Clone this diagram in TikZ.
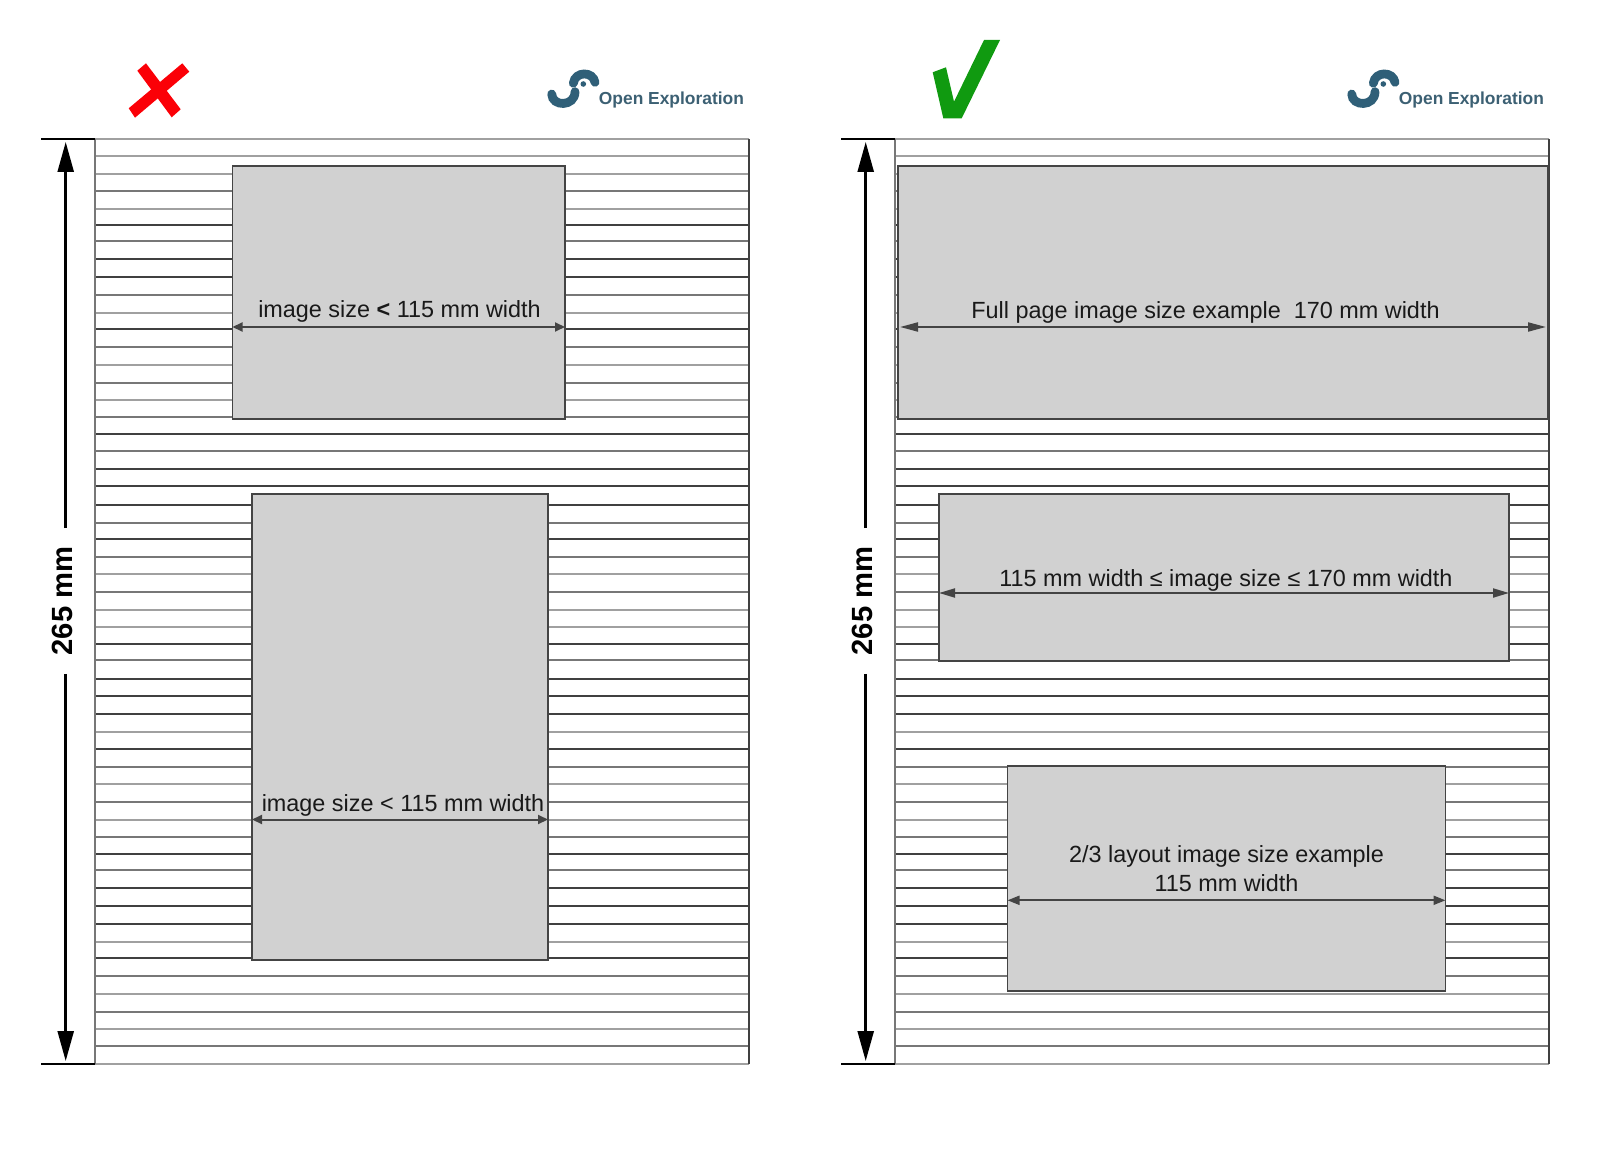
\documentclass[tikz,border=0pt]{standalone}
\usepackage{fontspec}
\setmainfont{Liberation Sans}
\usetikzlibrary{calc, arrows.meta}
\definecolor{imgcolor}{HTML}{D1D1D1}
\definecolor{edgecolor}{HTML}{444444}
\definecolor{ruled}{HTML}{404040}
\definecolor{rulem}{HTML}{777777}
\definecolor{ruleg}{HTML}{A0A0A0}
\definecolor{logocolor}{HTML}{2F5F78}
\definecolor{logotext}{HTML}{3C6073}
\definecolor{crosscolor}{HTML}{FB0007}
\definecolor{tickcolor}{HTML}{109A10}

\begin{document}
\begin{tikzpicture}[
    x=0.5pt, y=-0.5pt,
    rule/.style={line width=0.85pt},
    imgbox/.style={draw=edgecolor, fill=imgcolor, rectangle, line width=0.8pt, inner sep=0pt, outer sep=0pt},
    caption/.style={anchor=south, inner xsep=0pt, inner ysep=2pt, align=center, text=black!90, font=\fontsize{11.7}{14.5}\selectfont},
    span/.style={{Triangle[length=#1, width=4.5pt]}-{Triangle[length=#1, width=4.5pt]}, draw=edgecolor, line width=1pt},
    dim/.style={-{Triangle[length=15pt, width=8pt]}, line width=1.25pt, shorten >=1.5pt},
    pagetick/.style={line width=1pt},
    dimlabel/.style={rotate=90, inner xsep=9pt, inner ysep=0pt, text depth=3.7pt, font=\fontsize{14.6}{16}\selectfont\bfseries},
    logoarc/.style={draw=logocolor, line width=4.4pt, line cap=round}
]
    \useasboundingbox (0,0) rectangle (1600,1176);

    % =========================================================================
    % PAGES (ruled lines, edges, height arrow, logo)
    % =========================================================================
    \foreach \pagex in {0, 800} {
    \begin{scope}[shift={(\pagex,0)}]
        % Ruled lines
        \foreach \y/\c in {139/g,156/g,174/g,191/m,209/g,225/d,241/m,259/d,277/d,295/m,313/g,329/d,347/m,365/g,383/m,400/g,417/m,434/d,451/m,469/d,486/d,505/d,523/m,539/d,557/m,574/g,592/m,610/g,627/g,644/d,660/m,679/d,696/d,714/d,732/g,749/d,767/m,784/g,802/m,820/g,837/m,854/d,870/m,888/d,906/d,924/d,942/g,958/d,976/m,994/g,1012/m,1029/g,1046/m,1064/g} {
            \draw [rule, draw=rule\c] (95,\y) -- (749,\y);
        }
        \draw [rule, draw=rulem] (95,139) -- (95,1064);
        \draw [rule, draw=ruled] (749,139) -- (749,1064);

        % Height arrow
        \coordinate (top_\pagex) at (65.7,139);
        \coordinate (bot_\pagex) at (65.7,1064);
        \draw [pagetick] (41,139) -- (95,139);
        \draw [pagetick] (41,1064) -- (95,1064);
        \node (dim_\pagex) at (65.7,601) [dimlabel] {265 mm};
        \draw [dim] (dim_\pagex.east) -- (top_\pagex);
        \draw [dim] (dim_\pagex.west) -- (bot_\pagex);

        % Logo
        \draw [logoarc] (551.7,94) .. controls (552,107) and (575,107) .. (575,91.7);
        \draw [logoarc] (573.3,83.3) .. controls (575,71) and (593,71) .. (595,82.3);
        \fill [logocolor] (583.3,84) circle (1.4pt);
        \node (logo_\pagex) at (598.5,100.5) [anchor=west, inner sep=0pt, text=logotext, font=\fontsize{8.7}{10}\selectfont\bfseries] {Open Exploration};
    \end{scope}
    }

    % Cross and tick
    \fill [crosscolor] (146,63.3) -- (137.3,70.7) -- (171.7,117.3) -- (180.7,109.3) -- cycle;
    \fill [crosscolor] (128.7,108.3) -- (135,117.7) -- (189.3,71.7) -- (182.3,63.3) -- cycle;
    \fill [tickcolor] (932.7,72.3) -- (946,67.3) -- (954,101.7) -- (984,40) -- (1000,40) -- (961.7,118.3) -- (943.3,118.3) -- cycle;

    % =========================================================================
    % IMAGES ON THE LEFT PAGE
    % =========================================================================
    \node (img_small) at (398.75,292.5) [imgbox, minimum width=166.25pt, minimum height=126.5pt] {};
    \node (cap_small) at (399.5,327) [caption] {image size \textbf{<} 115 mm width};
    \draw [span=5pt] (img_small.west |- cap_small.south) -- (img_small.east |- cap_small.south);

    \node (img_tall) at (400,727) [imgbox, minimum width=148pt, minimum height=233pt] {};
    \node (cap_tall) at (403,819.5) [caption, inner ysep=1.5pt] {image size < 115 mm width};
    \draw [span=5pt] (img_tall.west |- cap_tall.south) -- (img_tall.east |- cap_tall.south);

    % =========================================================================
    % IMAGES ON THE RIGHT PAGE
    % =========================================================================
    \node (img_full) at (1223,292.5) [imgbox, minimum width=325pt, minimum height=126.5pt] {};
    \node (cap_full) at (1205.5,327) [caption, inner ysep=1.5pt] {Full page image size example\ \ 170 mm width};
    \draw [span=9pt] ($(img_full.west |- cap_full.south) + (2,0)$) -- ($(img_full.east |- cap_full.south) + (-2,0)$);

    \node (img_mid) at (1224,577.5) [imgbox, minimum width=285pt, minimum height=83.5pt] {};
    \node (cap_mid) at (1226,593) [caption, inner ysep=0.5pt] {115 mm width ≤ image size ≤ 170 mm width};
    \draw [span=8pt] (img_mid.west |- cap_mid.south) -- (img_mid.east |- cap_mid.south);

    \node (img_layout) at (1226.5,878.5) [imgbox, minimum width=219pt, minimum height=112.3pt] {};
    \node (cap_layout) at (1226.5,900.3) [caption, inner ysep=4pt] {2/3 layout image size example\\115 mm width};
    \draw [span=6pt] (img_layout.west |- cap_layout.south) -- (img_layout.east |- cap_layout.south);

\end{tikzpicture}
\end{document}
